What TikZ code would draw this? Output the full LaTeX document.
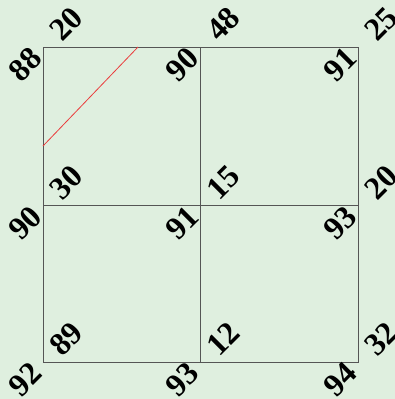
\documentclass[tikz,border=0pt]{standalone}
\usepackage{fontspec}
\setmainfont{Liberation Serif}
\usetikzlibrary{positioning}
\definecolor{bggreen}{RGB}{223,239,223}
\definecolor{gridgray}{RGB}{85,85,85}
\definecolor{cutred}{RGB}{235,60,60}

\begin{document}
\begin{tikzpicture}[x=1pt, y=-1pt,
    num/.style={rotate=45, inner sep=0pt, text=black,
                font=\fontsize{32}{32}\selectfont\bfseries},
    cell/.style={draw=gridgray, line width=0.9pt},
    cut/.style={draw=cutred, line width=0.8pt}]
    \fill[bggreen] (0,0) rectangle (395,399);
    \useasboundingbox (0,0) rectangle (395,399);
    % grid points
    \foreach \c/\x in {0/43, 1/200.5, 2/358}
      \foreach \r/\y in {0/47, 1/205.5, 2/362}
        \coordinate (p\c\r) at (\x,\y);
    \draw[cell] (p00) rectangle (p22);
    \draw[cell] (p10) -- (p12);
    \draw[cell] (p01) -- (p21);
    % red line in the upper left cell
    \coordinate (cuta) at (43,146);
    \coordinate (cutb) at (138,47);
    \draw[cut] (cuta) -- (cutb);
    % two numbers at every grid point
    \foreach \p/\lo/\hi in {00/88/20, 10/90/48, 20/91/25,
                            01/90/30, 11/91/15, 21/93/20,
                            02/92/89, 12/93/12, 22/94/32} {
      \node[num] (lo\p) at ([shift={(-18,17.5)}]p\p) {\lo};
      \node[num] (hi\p) at ([shift={(23,-23)}]p\p) {\hi};
    }
  \end{tikzpicture}
\end{document}
